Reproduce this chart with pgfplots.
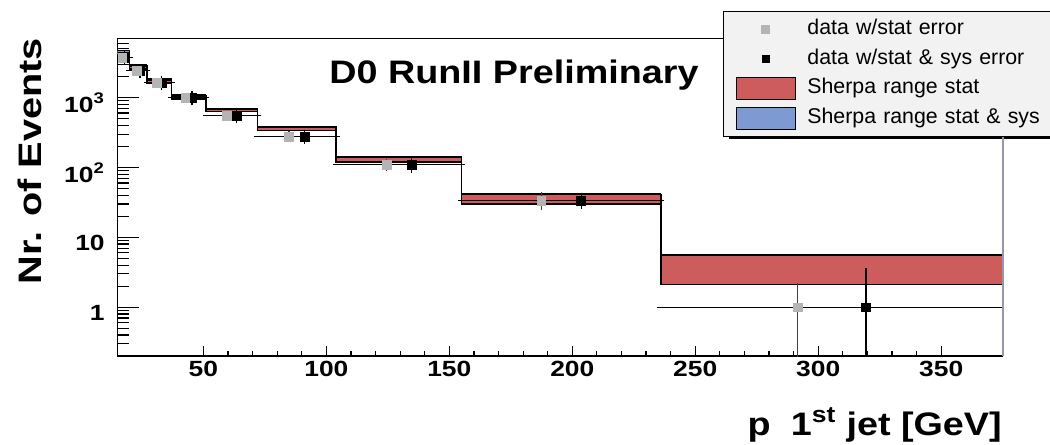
\documentclass[border=0pt]{standalone}
\usepackage{pgfplots}
\pgfplotsset{compat=1.18}
\usepackage{pgfplotstable}
\usepackage{graphicx}
\usepackage{fontspec}
\setmainfont{Liberation Sans}

\definecolor{sred}{RGB}{205,92,92}
\definecolor{sblue}{RGB}{125,155,210}
\definecolor{dgray}{RGB}{180,180,180}
\definecolor{legbg}{RGB}{242,242,242}
\definecolor{spine}{RGB}{150,150,170}

\newcommand{\sx}[1]{\scalebox{1.2}[1]{#1}}

\pgfplotsset{
  markleg/.style={legend image code/.code={\path[draw=none, fill=none] (0pt,-8.25pt) rectangle (44pt,8.25pt); \draw[##1] plot coordinates {(22pt,0pt)};}},
  boxleg/.style={legend image code/.code={\draw[##1, line width=0.8pt] (0pt,-8.25pt) rectangle (44pt,8.25pt);}},
}

% Sherpa bands: left bin edge, red (stat) low/high, blue (stat & sys) low/high
\pgfplotstableread{
x    rlo   rhi   blo   bhi
15   4150  4450  4050  4700
20   2550  2840  2500  2950
27   1650  1780  1600  1840
37   960   1060  940   1095
51   635   680   628   700
72   340   382   336   386
104  119   140   118   141
155  30    41    29.3  42
236  2.12  5.6   2.1   5.66
375  2.12  5.6   2.1   5.66
}\sherpa

% data: gray x, black x, value, stat err (+/-), stat&sys err (+/-), x err (-/+) of black
\pgfplotstableread{
xg    xb    y     sgp   sgm   bp    bm    exm   exq
17.0  18.0  3750  61    61    450   450   3.0   2.0
22.8  24.2  2420  49    49    300   300   4.2   2.8
31.0  33.0  1650  41    41    200   200   6.0   4.0
42.6  45.4  990   31    31    120   120   8.4   5.6
59.4  63.6  548   23    23    66    66    12.6  8.4
84.8  91.2  277   17    17    35    35    19.2  12.8
124.4 134.6 109   10.4  10.4  15    15    30.6  20.4
187.4 203.6 33.5  5.8   5.8   5.5   5.5   48.6  32.4
291.6 319.4 1     1     0.99  2.27  0.99  83.4  55.6
}\datatab

\begin{document}
\begin{tikzpicture}
% legend shadow
\fill[black] (546.75pt,229.1pt) rectangle (830pt,318pt);
\begin{axis}[
  at={(88pt,66pt)}, anchor=south west,
  scale only axis, width=664pt, height=238.1pt,
  clip mode=individual,
  axis x line*=box, axis y line*=left,
  x axis line style={-}, y axis line style={-},
  xmin=15, xmax=375,
  ymode=log, ymin=0.2, ymax=7000,
  xtick={50,100,150,200,250,300,350},
  xticklabels={\sx{50},\sx{100},\sx{150},\sx{200},\sx{250},\sx{300},\sx{350}},
  minor x tick num=4,
  ytick={1,10,100,1000},
  yticklabels={\sx{1},\sx{10},\sx{10\textsuperscript{2}},\sx{10\textsuperscript{3}}},
  minor ytick={0.2,0.3,0.4,0.5,0.6,0.7,0.8,0.9,2,3,4,5,6,7,8,9,20,30,40,50,60,70,80,90,200,300,400,500,600,700,800,900,2000,3000,4000,5000,6000,7000},
  tick pos=left, tick align=inside,
  xtick style={line width=0.9pt, black, /pgfplots/major tick length=7.5pt, /pgfplots/minor tick length=3.75pt},
  ytick style={line width=0.9pt, black, /pgfplots/major tick length=16.5pt, /pgfplots/minor tick length=8.5pt},
  axis line style={line width=1.1pt, black},
  tick label style={font=\fontsize{16.5}{19}\selectfont\bfseries},
  yticklabel style={xshift=-6pt, yshift=-4pt},
  legend cell align=left,
  legend style={
    at={(0.6838,1.0866)}, anchor=north west,
    fill=legbg, draw=black, line width=0.8pt,
    inner xsep=9.5pt, inner ysep=5pt,
    row sep=5pt, column sep=7.8pt,
    font=\fontsize{16}{19}\selectfont,
    nodes={inner sep=1pt, text height=11.5pt, text depth=3.5pt, text width=215pt},
  },
]
% Sherpa stat & sys band (blue)
\addplot[forget plot, fill=sblue, draw=none] coordinates {
 (15,4700) (20,4700) (20,2950) (27,2950) (27,1840) (37,1840) (37,1095) (51,1095)
 (51,700) (72,700) (72,386) (104,386) (104,141) (155,141) (155,42) (236,42)
 (236,5.66) (375,5.66) (375,2.1) (236,2.1) (236,29.3) (155,29.3) (155,118) (104,118)
 (104,336) (72,336) (72,628) (51,628) (51,940) (37,940) (37,1600) (27,1600)
 (27,2500) (20,2500) (20,4050) (15,4050)} -- cycle;
% Sherpa stat band (red)
\addplot[forget plot, fill=sred, draw=none] coordinates {
 (15,4450) (20,4450) (20,2840) (27,2840) (27,1780) (37,1780) (37,1060) (51,1060)
 (51,680) (72,680) (72,382) (104,382) (104,140) (155,140) (155,41) (236,41)
 (236,5.6) (375,5.6) (375,2.12) (236,2.12) (236,30) (155,30) (155,119) (104,119)
 (104,340) (72,340) (72,635) (51,635) (51,960) (37,960) (37,1650) (27,1650)
 (27,2550) (20,2550) (20,4150) (15,4150)} -- cycle;
% outlines
\addplot[forget plot, const plot, black, line width=0.9pt] table[x=x, y=bhi]{\sherpa};
\addplot[forget plot, const plot, black, line width=0.9pt] table[x=x, y=blo]{\sherpa};
\addplot[forget plot, const plot, black, line width=1.1pt] table[x=x, y=rhi]{\sherpa};
\addplot[forget plot, const plot, black, line width=1.1pt] table[x=x, y=rlo]{\sherpa};
% data with stat & sys errors
\addplot[forget plot, only marks, mark=square*, mark size=3.3pt, mark options={draw=black, fill=black},
  error bars/.cd, x dir=both, x explicit, y dir=both, y explicit,
  error bar style={black, line width=0.9pt}, error mark options={black, line width=0.9pt, mark size=2.5pt}]
  table[x=xb, y=y, x error plus=exq, x error minus=exm, y error plus=bp, y error minus=bm]{\datatab};
% data with stat errors
\addplot[forget plot, only marks, mark=square*, mark size=3.3pt, mark options={draw=dgray, fill=dgray},
  error bars/.cd, y dir=both, y explicit,
  error bar style={black!75, line width=0.9pt}, error mark options={black!75, line width=0.9pt, mark size=2.5pt}]
  table[x=xg, y=y, y error plus=sgp, y error minus=sgm]{\datatab};
% right frame line (light)
\draw[spine, line width=1.3pt] (rel axis cs:1,0) -- (rel axis cs:1,1);
% legend
\addlegendimage{markleg, only marks, mark=square*, mark size=3pt, mark options={draw=dgray, fill=dgray}}
\addlegendentry{data w/stat error}
\addlegendimage{markleg, only marks, mark=square*, mark size=2.6pt, mark options={draw=black, fill=black}}
\addlegendentry{data w/stat \& sys error}
\addlegendimage{boxleg, fill=sred, draw=black}
\addlegendentry{Sherpa range stat}
\addlegendimage{boxleg, fill=sblue, draw=black}
\addlegendentry{Sherpa range stat \& sys}
\end{axis}
\node[anchor=base, inner sep=0pt, font=\fontsize{24.4}{29}\selectfont\bfseries]
  at (385.5pt,270.5pt) {\scalebox{1.16}[1]{D0 RunII Preliminary}};
\node[anchor=base east, inner sep=0pt, font=\fontsize{24.4}{29}\selectfont\bfseries]
  at (751.5pt,6.75pt) {\scalebox{1.16}[1]{p\hspace{13pt}1\textsuperscript{st} jet [GeV]}};
\node[rotate=90, anchor=base east, inner sep=0pt, font=\fontsize{24.4}{29}\selectfont\bfseries]
  at (30.75pt,304.5pt) {\scalebox{1.22}[1]{Nr. of Events}};
\pgfresetboundingbox
\useasboundingbox (0,0) rectangle (787.5pt,333pt);
\end{tikzpicture}
\end{document}
